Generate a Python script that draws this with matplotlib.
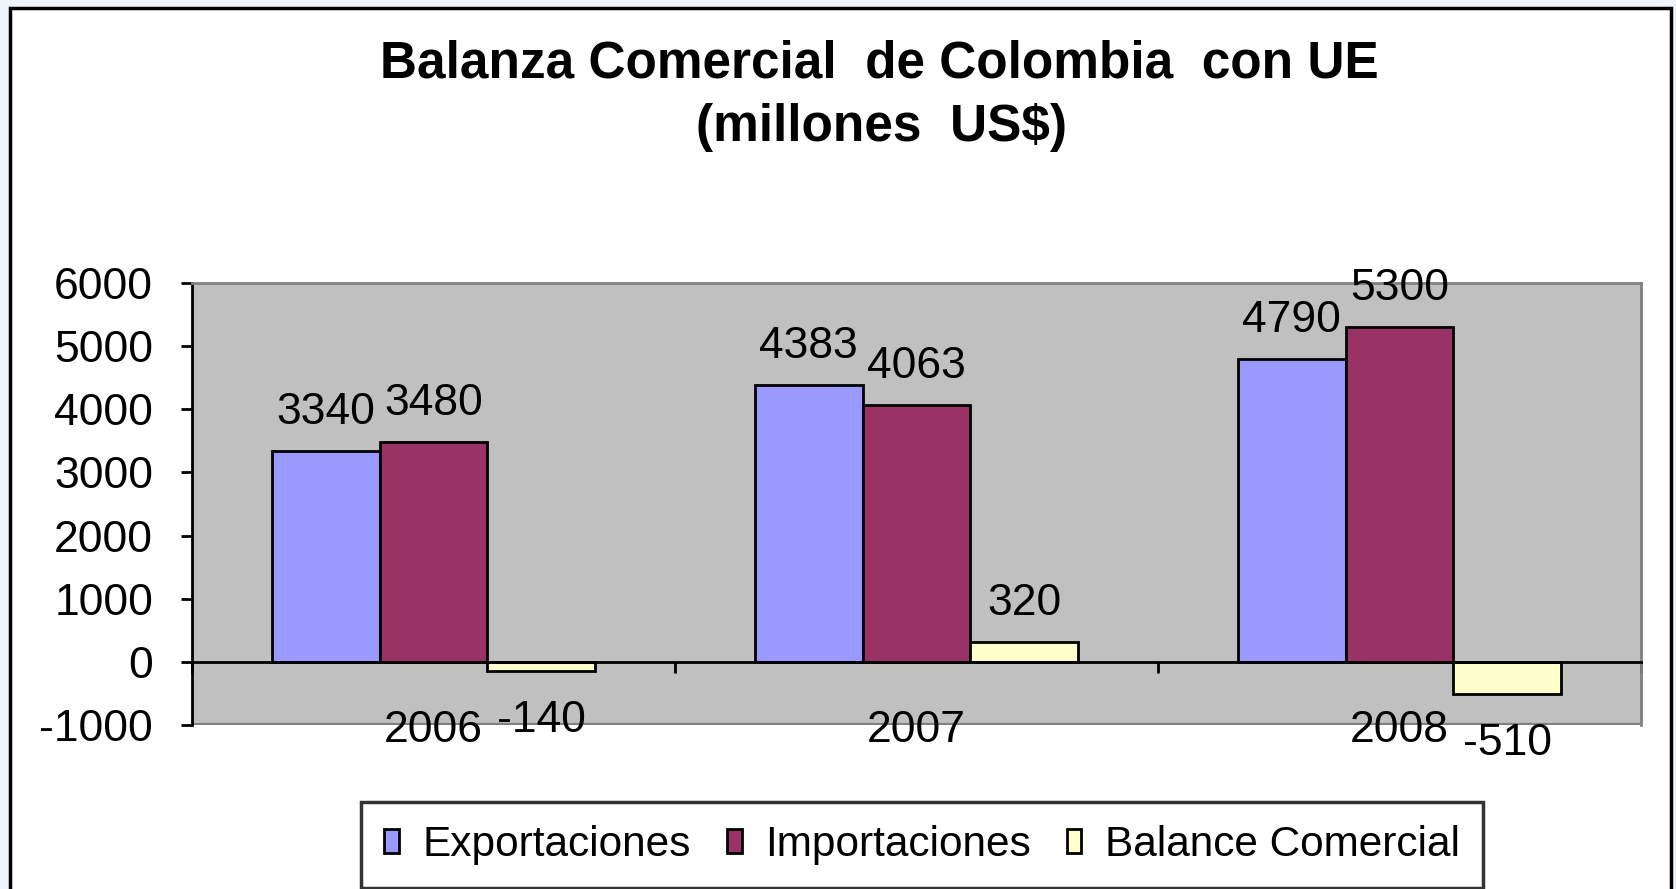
import matplotlib.pyplot as plt
from matplotlib.patches import Rectangle
import numpy as np

# datos
anios = ['2006', '2007', '2008']
exportaciones = [3340, 4383, 4790]
importaciones = [3480, 4063, 5300]
balance = [-140, 320, -510]
series = ['Exportaciones', 'Importaciones', 'Balance Comercial']
colores = ['#9999FF', '#993366', '#FFFFCC']

plt.rcParams['font.family'] = ['Liberation Sans', 'DejaVu Sans']
plt.rcParams['axes.unicode_minus'] = False

fig = plt.figure(figsize=(16.76, 8.89), dpi=100)
fig.patch.set_facecolor('#EEF4FB')
# marco blanco del grafico
fig.patches.append(Rectangle((10/1676, -0.05), 1661/1676, 1 - 8/889 + 0.05,
                             transform=fig.transFigure, facecolor='white',
                             edgecolor='black', linewidth=2.5, zorder=-5))

ax = fig.add_axes([192/1676, 164/889, 1449/1676, 442/889])
ax.set_facecolor('#C0C0C0')

x = np.arange(len(anios))
w = 0.2236
for i, (vals, col) in enumerate(zip([exportaciones, importaciones, balance], colores)):
    bars = ax.bar(x + (i - 1) * w, vals, w, color=col, edgecolor='black',
                  linewidth=2, label=series[i], zorder=3)
    for b, v in zip(bars, vals):
        if v >= 0:
            ax.annotate(str(v), (b.get_x() + b.get_width() / 2, v),
                        xytext=(0, 13), textcoords='offset points',
                        ha='center', va='bottom', fontsize=32)
        else:
            ax.annotate(str(v), (b.get_x() + b.get_width() / 2, v),
                        xytext=(0, -21), textcoords='offset points',
                        ha='center', va='top', fontsize=32)

ax.set_xlim(-0.5, 2.5)
ax.set_ylim(-1000, 6000)
ax.set_yticks(range(-1000, 6001, 1000))
ax.set_xticks(x)
ax.set_xticklabels(anios)
ax.set_xticks([-0.5, 0.5, 1.5, 2.5], minor=True)
ax.tick_params(axis='y', direction='out', length=8, width=2, labelsize=32, pad=20)
ax.tick_params(axis='x', which='major', length=0, labelsize=32, pad=35)
ax.tick_params(axis='x', which='minor', direction='out', length=8, width=2)

ax.spines['bottom'].set_position(('data', 0))
ax.spines['bottom'].set_linewidth(2)
ax.spines['bottom'].set_zorder(4)
ax.spines['left'].set_linewidth(2)
for s in ['top', 'right']:
    ax.spines[s].set_color('#808080')
    ax.spines[s].set_linewidth(2)
ax.axhline(-1000, color='#808080', linewidth=3, zorder=1)

fig.text(0.5245, 1 - 64/889, 'Balanza Comercial  de Colombia  con UE',
         ha='center', va='center', fontsize=37, fontweight='bold')
fig.text(0.5262, 1 - 128/889, '(millones  US$)',
         ha='center', va='center', fontsize=37, fontweight='bold')

leg = fig.legend(loc='center', bbox_to_anchor=(922/1676, 44/889), ncol=3,
                 fontsize=30.5, frameon=True, fancybox=False, handlelength=0.35,
                 handleheight=0.5, handletextpad=0.55, columnspacing=0.85,
                 borderpad=0.55, borderaxespad=0)
leg.get_frame().set_edgecolor('black')
leg.get_frame().set_linewidth(2.5)

plt.savefig('out.png', dpi=100, facecolor=fig.get_facecolor())
